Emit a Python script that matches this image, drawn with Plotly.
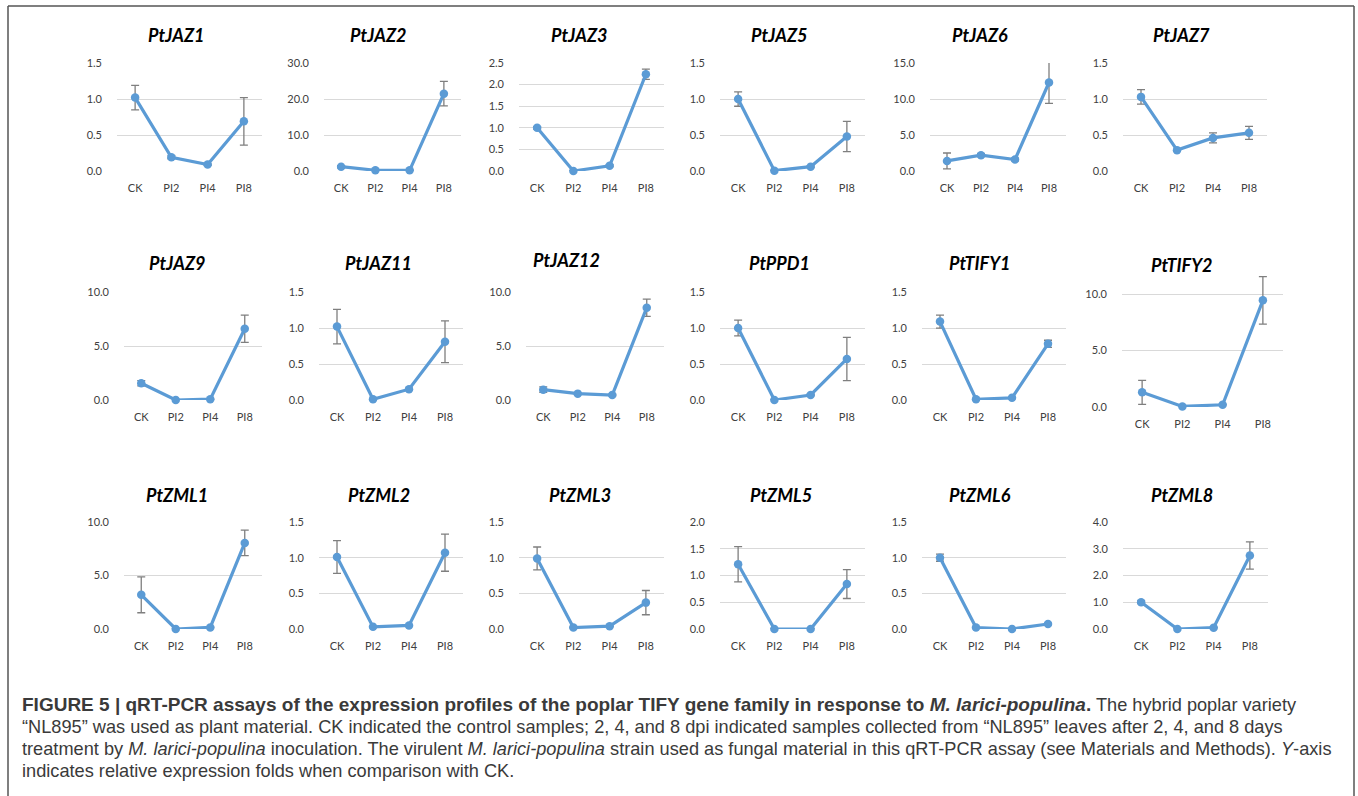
import plotly.graph_objects as go

W, H = 1358, 796
categories = ["CK", "PI2", "PI4", "PI8"]

genes = ["PtJAZ1", "PtJAZ2", "PtJAZ3", "PtJAZ5", "PtJAZ6", "PtJAZ7",
         "PtJAZ9", "PtJAZ11", "PtJAZ12", "PtPPD1", "PtTIFY1", "PtTIFY2",
         "PtZML1", "PtZML2", "PtZML3", "PtZML5", "PtZML6", "PtZML8"]

jaz1 = [1.02, 0.19, 0.09, 0.69];   jaz1_err = [0.17, 0.02, 0.01, 0.33]
jaz2 = [1.2, 0.2, 0.2, 21.5];      jaz2_err = [0.3, 0.1, 0.1, 3.4]
jaz3 = [1.0, 0.0, 0.12, 2.24];     jaz3_err = [0.03, 0.01, 0.02, 0.12]
jaz5 = [1.0, 0.005, 0.06, 0.48];   jaz5_err = [0.1, 0.005, 0.01, 0.21]
jaz6 = [1.4, 2.2, 1.6, 12.3];      jaz6_err = [1.1, 0.2, 0.2, 2.9]
jaz7 = [1.03, 0.29, 0.46, 0.53];   jaz7_err = [0.1, 0.01, 0.07, 0.09]
jaz9 = [1.55, 0.0, 0.08, 6.6];     jaz9_err = [0.25, 0.02, 0.02, 1.27]
jaz11 = [1.02, 0.01, 0.15, 0.81];  jaz11_err = [0.24, 0.01, 0.01, 0.29]
jaz12 = [0.96, 0.59, 0.46, 8.55];  jaz12_err = [0.25, 0.05, 0.05, 0.8]
ppd1 = [1.0, 0.0, 0.07, 0.57];     ppd1_err = [0.11, 0.005, 0.01, 0.3]
tify1 = [1.09, 0.01, 0.03, 0.78];  tify1_err = [0.09, 0.005, 0.005, 0.05]
tify2 = [1.3, 0.05, 0.2, 9.45];    tify2_err = [1.06, 0.02, 0.02, 2.1]
zml1 = [3.2, 0.0, 0.15, 8.05];     zml1_err = [1.68, 0.02, 0.02, 1.19]
zml2 = [1.01, 0.03, 0.05, 1.07];   zml2_err = [0.23, 0.005, 0.005, 0.26]
zml3 = [0.99, 0.02, 0.04, 0.37];   zml3_err = [0.16, 0.005, 0.005, 0.17]
zml5 = [1.21, 0.0, 0.0, 0.84];     zml5_err = [0.33, 0.005, 0.005, 0.27]
zml6 = [1.0, 0.02, 0.0, 0.07];     zml6_err = [0.05, 0.005, 0.005, 0.005]
zml8 = [1.0, 0.0, 0.05, 2.75];     zml8_err = [0.05, 0.01, 0.01, 0.51]

values = [jaz1, jaz2, jaz3, jaz5, jaz6, jaz7, jaz9, jaz11, jaz12, ppd1, tify1, tify2,
          zml1, zml2, zml3, zml5, zml6, zml8]
errors = [jaz1_err, jaz2_err, jaz3_err, jaz5_err, jaz6_err, jaz7_err, jaz9_err, jaz11_err,
          jaz12_err, ppd1_err, tify1_err, tify2_err, zml1_err, zml2_err, zml3_err,
          zml5_err, zml6_err, zml8_err]
y_max = [1.5, 30, 2.5, 1.5, 15, 1.5, 10, 1.5, 10, 1.5, 1.5, 11.6, 10, 1.5, 1.5, 2.0, 1.5, 4.0]
y_step = [0.5, 10, 0.5, 0.5, 5, 0.5, 5, 0.5, 5, 0.5, 0.5, 5, 5, 0.5, 0.5, 0.5, 0.5, 1.0]

# layout (pixels)
x_doms = [(117, 262), (324, 461), (519, 664), (720, 865), (930, 1066), (1123, 1267),
          (124, 262), (319, 463), (526, 664), (720, 865), (922, 1066), (1122, 1283),
          (124, 262), (319, 463), (519, 664), (720, 865), (922, 1066), (1123, 1268)]
y_doms = [(63, 171)] * 6 + [(292, 400)] * 5 + [(276, 407)] + [(522, 629)] * 6
title_x = [176, 378, 579, 780, 980, 1181, 177, 378, 566, 780, 980, 1182,
           177, 379, 580, 781, 980, 1182]
title_y = [35] * 6 + [263, 263, 260, 263, 263, 265] + [495] * 6

BLUE = "#5B9BD5"
TICKFONT = dict(family="Lato, Open Sans, sans-serif", size=11, color="#404040")

fig = go.Figure()
layout = dict(width=W, height=H,
              margin=dict(l=0, r=0, t=0, b=0, pad=0, autoexpand=False),
              paper_bgcolor="white", plot_bgcolor="white", showlegend=False)
annotations = []
for i in range(18):
    n = "" if i == 0 else str(i + 1)
    fig.add_trace(go.Scatter(
        x=categories, y=values[i], mode="lines+markers",
        line=dict(color=BLUE, width=3.2), marker=dict(color=BLUE, size=8.5),
        error_y=dict(type="data", array=errors[i], color="#7F7F7F", thickness=1.3, width=4),
        xaxis="x" + n, yaxis="y" + n, cliponaxis=False))
    x0, x1 = x_doms[i]
    yt, yb = y_doms[i]
    layout["xaxis" + n] = dict(domain=[x0 / W, x1 / W], anchor="y" + n, type="category",
                               range=[-0.5, 3.5], showgrid=False, zeroline=False,
                               showline=False, ticks="", tickfont=TICKFONT,
                               ticklabelstandoff=9, automargin=False, fixedrange=True)
    layout["yaxis" + n] = dict(domain=[1 - yb / H, 1 - yt / H], anchor="x" + n,
                               range=[0, y_max[i] * 1.0005], dtick=y_step[i], tick0=0,
                               tickformat=".1f", showgrid=True, gridcolor="#D9D9D9",
                               gridwidth=1, zeroline=False, showline=False, ticks="",
                               tickfont=TICKFONT, ticklabelstandoff=14, automargin=False,
                               fixedrange=True)
    annotations.append(dict(text="<b><i>%s</i></b>" % genes[i], x=title_x[i] / W,
                            y=1 - title_y[i] / H, xref="paper", yref="paper",
                            xanchor="center", yanchor="middle", showarrow=False,
                            font=dict(family="Lato, Open Sans, sans-serif", size=18,
                                      color="#000000")))

cap_font = dict(family="Liberation Sans, Arial, sans-serif", size=18.2, color="#3A3A3A")
caption = [
    "<span style='font-size:19px'><b>FIGURE 5 | qRT-PCR assays of the expression profiles of the poplar TIFY gene family in response to <i>M. larici-populina</i>.</b></span> The hybrid poplar variety",
    "\u201cNL895\u201d was used as plant material. CK indicated the control samples; 2, 4, and 8 dpi indicated samples collected from \u201cNL895\u201d leaves after 2, 4, and 8 days",
    "treatment by <i>M. larici-populina</i> inoculation. The virulent <i>M. larici-populina</i> strain used as fungal material in this qRT-PCR assay (see Materials and Methods). <i>Y</i>-axis",
    "indicates relative expression folds when comparison with CK.",
]
cap_y = [704, 727, 749, 771]
for t, yy in zip(caption, cap_y):
    annotations.append(dict(text=t, x=20 / W, y=1 - yy / H, xref="paper", yref="paper",
                            xanchor="left", yanchor="middle", showarrow=False,
                            font=cap_font, align="left"))

layout["annotations"] = annotations
border = dict(color="#555555", width=1.5)
layout["shapes"] = [
    dict(type="line", xref="paper", yref="paper", x0=8 / W, x1=1354 / W,
         y0=1 - 6 / H, y1=1 - 6 / H, line=border),
    dict(type="line", xref="paper", yref="paper", x0=8 / W, x1=8 / W,
         y0=0, y1=1 - 6 / H, line=border),
    dict(type="line", xref="paper", yref="paper", x0=1354 / W, x1=1354 / W,
         y0=0, y1=1 - 6 / H, line=border),
]
fig.update_layout(**layout)
fig.write_html("out.html")
